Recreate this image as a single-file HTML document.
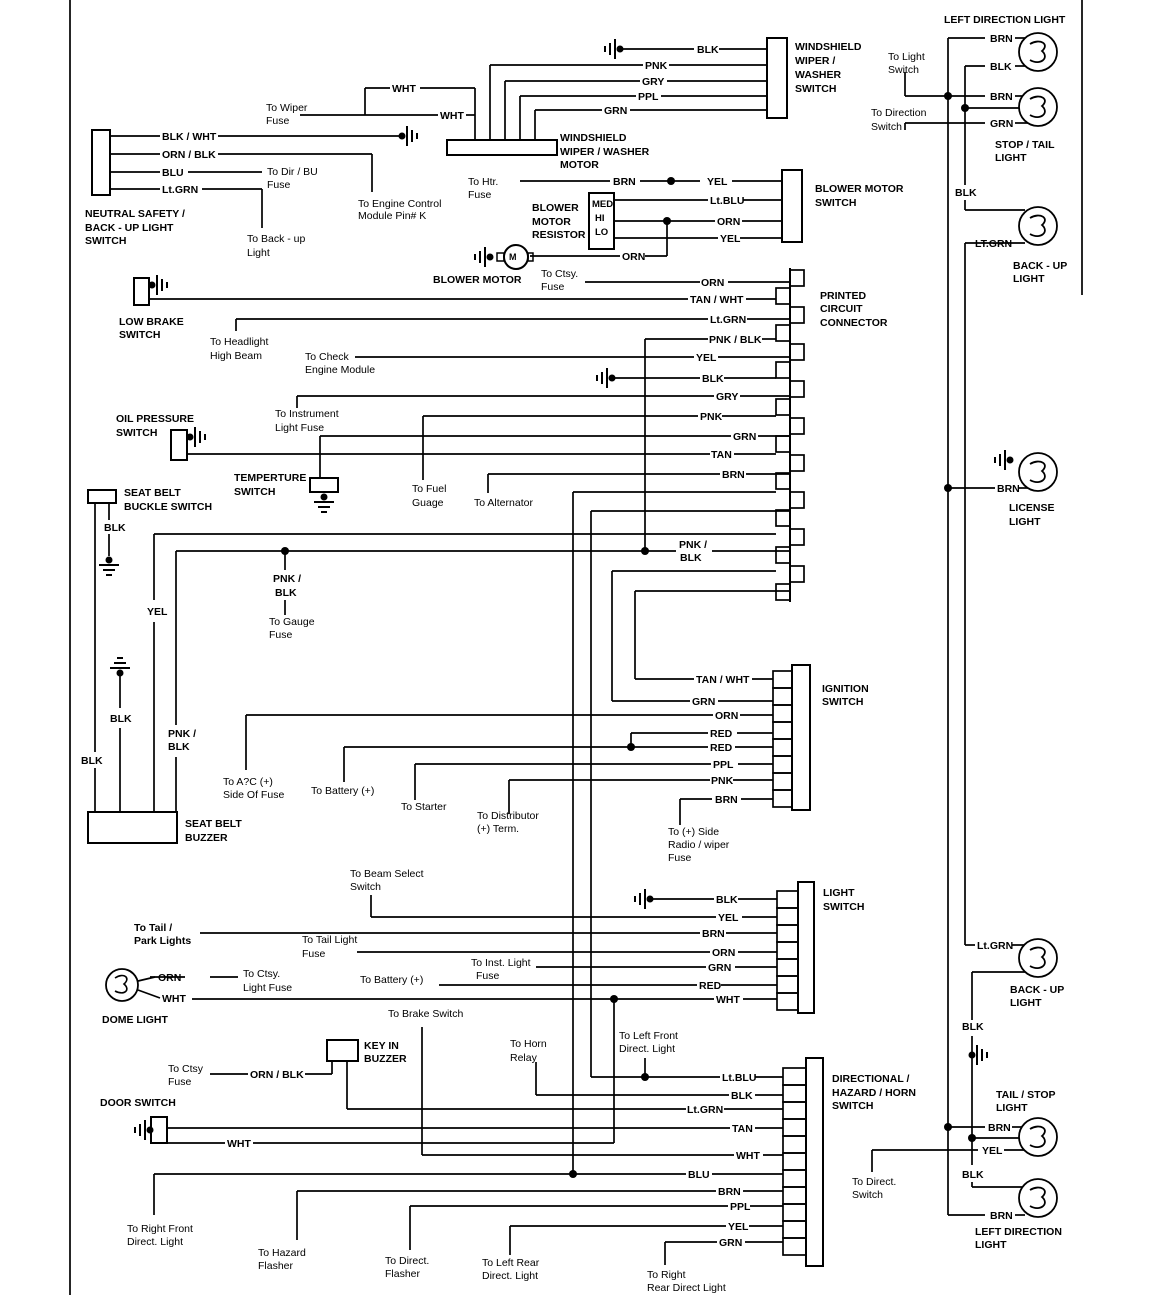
<!DOCTYPE html>
<html><head><meta charset="utf-8"><style>
html,body{margin:0;padding:0;background:#fff;}
svg{display:block;}
text{font-family:"Liberation Sans",sans-serif;font-size:10.5px;fill:#000;}
.b{font-weight:bold;}
</style></head><body>
<svg width="1152" height="1295" viewBox="0 0 1152 1295" xmlns="http://www.w3.org/2000/svg">
<defs>
<g id="gL"><circle cx="0" cy="0" r="3.5" fill="#000"/><line x1="-5" y1="-10" x2="-5" y2="10" stroke="#000" stroke-width="2"/><line x1="-10" y1="-6" x2="-10" y2="6" stroke="#000" stroke-width="2"/><line x1="-15" y1="-3" x2="-15" y2="3" stroke="#000" stroke-width="2"/></g>
<g id="gR"><circle cx="0" cy="0" r="3.5" fill="#000"/><line x1="5" y1="-10" x2="5" y2="10" stroke="#000" stroke-width="2"/><line x1="10" y1="-6" x2="10" y2="6" stroke="#000" stroke-width="2"/><line x1="15" y1="-3" x2="15" y2="3" stroke="#000" stroke-width="2"/></g>
<g id="gD"><circle cx="0" cy="0" r="3.5" fill="#000"/><line x1="-10" y1="5" x2="10" y2="5" stroke="#000" stroke-width="2"/><line x1="-6" y1="10" x2="6" y2="10" stroke="#000" stroke-width="2"/><line x1="-3" y1="15" x2="3" y2="15" stroke="#000" stroke-width="2"/></g>
<g id="gU"><circle cx="0" cy="0" r="3.5" fill="#000"/><line x1="-10" y1="-5" x2="10" y2="-5" stroke="#000" stroke-width="2"/><line x1="-6" y1="-10" x2="6" y2="-10" stroke="#000" stroke-width="2"/><line x1="-3" y1="-15" x2="3" y2="-15" stroke="#000" stroke-width="2"/></g>
<g id="bulb"><circle cx="0" cy="0" r="19" fill="#fff" stroke="#000" stroke-width="1.8"/><path d="M-8,-8 C2,-14 12,-8 4,-1 C12,6 2,14 -8,8" fill="none" stroke="#000" stroke-width="1.8"/></g>
<circle id="dt" cx="0" cy="0" r="4" fill="#000"/>
</defs>
<g stroke="#000" stroke-width="1.7" fill="none">
<line x1="70" y1="0" x2="70" y2="1295"/>
<line x1="1082" y1="0" x2="1082" y2="295"/>

<rect x="767" y="38" width="20" height="80" stroke-width="2"/>
<line x1="620" y1="49" x2="694" y2="49"/><line x1="719" y1="49" x2="767" y2="49"/>
<line x1="490" y1="65" x2="643" y2="65"/><line x1="669" y1="65" x2="767" y2="65"/>
<line x1="505" y1="81" x2="640" y2="81"/><line x1="667" y1="81" x2="767" y2="81"/>
<line x1="520" y1="96" x2="636" y2="96"/><line x1="661" y1="96" x2="767" y2="96"/>
<line x1="535" y1="110" x2="602" y2="110"/><line x1="630" y1="110" x2="767" y2="110"/>
<line x1="490" y1="65" x2="490" y2="140"/><line x1="505" y1="81" x2="505" y2="140"/><line x1="520" y1="96" x2="520" y2="140"/><line x1="535" y1="110" x2="535" y2="140"/>
<rect x="447" y="140" width="110" height="15" stroke-width="2"/>
<line x1="365" y1="88" x2="390" y2="88"/><line x1="420" y1="88" x2="475" y2="88"/><line x1="475" y1="88" x2="475" y2="140"/>
<line x1="365" y1="88" x2="365" y2="115"/><line x1="300" y1="115" x2="438" y2="115"/><line x1="466" y1="115" x2="475" y2="115"/>

<rect x="92" y="130" width="18" height="65" stroke-width="2"/>
<line x1="110" y1="136" x2="160" y2="136"/><line x1="218" y1="136" x2="400" y2="136"/>
<line x1="110" y1="154" x2="160" y2="154"/><line x1="218" y1="154" x2="372" y2="154"/><line x1="372" y1="154" x2="372" y2="192"/>
<line x1="110" y1="172" x2="160" y2="172"/><line x1="188" y1="172" x2="262" y2="172"/>
<line x1="110" y1="189" x2="160" y2="189"/><line x1="202" y1="189" x2="262" y2="189"/><line x1="262" y1="189" x2="262" y2="228"/>

<line x1="520" y1="181" x2="610" y2="181"/><line x1="640" y1="181" x2="700" y2="181"/><line x1="732" y1="181" x2="782" y2="181"/>
<rect x="589" y="193" width="25" height="56" stroke-width="2"/>
<line x1="614" y1="200" x2="708" y2="200"/><line x1="743" y1="200" x2="782" y2="200"/>
<line x1="614" y1="221" x2="715" y2="221"/><line x1="742" y1="221" x2="782" y2="221"/>
<line x1="614" y1="238" x2="718" y2="238"/><line x1="740" y1="238" x2="782" y2="238"/>
<line x1="530" y1="256" x2="620" y2="256"/><line x1="645" y1="256" x2="667" y2="256"/><line x1="667" y1="221" x2="667" y2="256"/>
<rect x="782" y="170" width="20" height="72" stroke-width="2"/>
<circle cx="516" cy="257" r="12" stroke-width="2"/>
<rect x="497" y="253" width="7" height="8" stroke-width="1.5"/><rect x="528" y="253" width="5" height="8" stroke-width="1.5"/>

<line x1="790" y1="268" x2="790" y2="602" stroke-width="2"/>
<rect x="790" y="270" width="14" height="16"/><rect x="776" y="288" width="14" height="16"/>
<rect x="790" y="307" width="14" height="16"/><rect x="776" y="325" width="14" height="16"/>
<rect x="790" y="344" width="14" height="16"/><rect x="776" y="362" width="14" height="16"/>
<rect x="790" y="381" width="14" height="16"/><rect x="776" y="399" width="14" height="16"/>
<rect x="790" y="418" width="14" height="16"/><rect x="776" y="436" width="14" height="16"/>
<rect x="790" y="455" width="14" height="16"/><rect x="776" y="473" width="14" height="16"/>
<rect x="790" y="492" width="14" height="16"/><rect x="776" y="510" width="14" height="16"/>
<rect x="790" y="529" width="14" height="16"/><rect x="776" y="547" width="14" height="16"/>
<rect x="790" y="566" width="14" height="16"/><rect x="776" y="584" width="14" height="16"/>

<line x1="585" y1="282" x2="700" y2="282"/><line x1="728" y1="282" x2="790" y2="282"/>
<rect x="134" y="278" width="15" height="27" stroke-width="2"/>
<line x1="149" y1="299" x2="688" y2="299"/><line x1="746" y1="299" x2="776" y2="299"/>
<line x1="236" y1="319" x2="708" y2="319"/><line x1="747" y1="319" x2="790" y2="319"/><line x1="236" y1="319" x2="236" y2="331"/>
<line x1="645" y1="339" x2="708" y2="339"/><line x1="762" y1="339" x2="776" y2="339"/><line x1="645" y1="339" x2="645" y2="551"/>
<line x1="355" y1="357" x2="694" y2="357"/><line x1="718" y1="357" x2="790" y2="357"/>
<line x1="611" y1="378" x2="700" y2="378"/><line x1="724" y1="378" x2="776" y2="378"/>
<line x1="297" y1="396" x2="714" y2="396"/><line x1="740" y1="396" x2="790" y2="396"/><line x1="297" y1="396" x2="297" y2="408"/>
<line x1="423" y1="416" x2="698" y2="416"/><line x1="722" y1="416" x2="776" y2="416"/><line x1="423" y1="416" x2="423" y2="480"/>
<line x1="320" y1="436" x2="731" y2="436"/><line x1="758" y1="436" x2="790" y2="436"/><line x1="320" y1="436" x2="320" y2="478"/>
<rect x="171" y="430" width="16" height="30" stroke-width="2"/>
<line x1="187" y1="454" x2="710" y2="454"/><line x1="734" y1="454" x2="776" y2="454"/>
<rect x="310" y="478" width="28" height="14" stroke-width="2"/>
<line x1="488" y1="474" x2="720" y2="474"/><line x1="746" y1="474" x2="790" y2="474"/><line x1="488" y1="474" x2="488" y2="493"/>
<line x1="573" y1="492" x2="776" y2="492"/><line x1="573" y1="492" x2="573" y2="1174"/>
<line x1="591" y1="511" x2="790" y2="511"/><line x1="591" y1="511" x2="591" y2="1077"/>
<line x1="154" y1="534" x2="776" y2="534"/><line x1="154" y1="534" x2="154" y2="600"/><line x1="154" y1="622" x2="154" y2="812"/>
<line x1="176" y1="551" x2="676" y2="551"/><line x1="712" y1="551" x2="790" y2="551"/><line x1="176" y1="551" x2="176" y2="725"/><line x1="176" y1="757" x2="176" y2="812"/>
<line x1="285" y1="551" x2="285" y2="570"/><line x1="285" y1="600" x2="285" y2="615"/>
<line x1="612" y1="571" x2="776" y2="571"/><line x1="612" y1="571" x2="612" y2="701"/>
<line x1="635" y1="591" x2="790" y2="591"/><line x1="635" y1="591" x2="635" y2="679"/>

<rect x="88" y="490" width="28" height="13" stroke-width="2"/>
<line x1="95" y1="503" x2="95" y2="752"/><line x1="95" y1="768" x2="95" y2="812"/>
<line x1="109" y1="503" x2="109" y2="520"/><line x1="109" y1="534" x2="109" y2="556"/>
<line x1="120" y1="673" x2="120" y2="708"/><line x1="120" y1="728" x2="120" y2="812"/>
<rect x="88" y="812" width="89" height="31" stroke-width="2"/>

<rect x="792" y="665" width="18" height="145" stroke-width="2"/>
<rect x="773" y="671" width="19" height="17"/><rect x="773" y="688" width="19" height="17"/><rect x="773" y="705" width="19" height="17"/><rect x="773" y="722" width="19" height="17"/><rect x="773" y="739" width="19" height="17"/><rect x="773" y="756" width="19" height="17"/><rect x="773" y="773" width="19" height="17"/><rect x="773" y="790" width="19" height="17"/>
<line x1="635" y1="679" x2="694" y2="679"/><line x1="752" y1="679" x2="773" y2="679"/>
<line x1="612" y1="701" x2="690" y2="701"/><line x1="718" y1="701" x2="773" y2="701"/>
<line x1="246" y1="715" x2="713" y2="715"/><line x1="740" y1="715" x2="773" y2="715"/><line x1="246" y1="715" x2="246" y2="770"/>
<line x1="631" y1="733" x2="708" y2="733"/><line x1="737" y1="733" x2="773" y2="733"/><line x1="631" y1="733" x2="631" y2="747"/>
<line x1="344" y1="747" x2="708" y2="747"/><line x1="735" y1="747" x2="773" y2="747"/><line x1="344" y1="747" x2="344" y2="782"/>
<line x1="415" y1="764" x2="711" y2="764"/><line x1="738" y1="764" x2="773" y2="764"/><line x1="415" y1="764" x2="415" y2="800"/>
<line x1="509" y1="780" x2="710" y2="780"/><line x1="733" y1="780" x2="773" y2="780"/><line x1="509" y1="780" x2="509" y2="814"/>
<line x1="680" y1="799" x2="712" y2="799"/><line x1="741" y1="799" x2="773" y2="799"/><line x1="680" y1="799" x2="680" y2="825"/>

<rect x="798" y="882" width="16" height="131" stroke-width="2"/>
<rect x="777" y="891" width="21" height="17"/><rect x="777" y="908" width="21" height="17"/><rect x="777" y="925" width="21" height="17"/><rect x="777" y="942" width="21" height="17"/><rect x="777" y="959" width="21" height="17"/><rect x="777" y="976" width="21" height="17"/><rect x="777" y="993" width="21" height="17"/>
<line x1="650" y1="899" x2="714" y2="899"/><line x1="738" y1="899" x2="777" y2="899"/>
<line x1="371" y1="917" x2="716" y2="917"/><line x1="742" y1="917" x2="777" y2="917"/><line x1="371" y1="895" x2="371" y2="917"/>
<line x1="200" y1="933" x2="700" y2="933"/><line x1="726" y1="933" x2="777" y2="933"/>
<line x1="357" y1="952" x2="710" y2="952"/><line x1="738" y1="952" x2="777" y2="952"/>
<line x1="536" y1="967" x2="706" y2="967"/><line x1="735" y1="967" x2="777" y2="967"/>
<line x1="439" y1="985" x2="697" y2="985"/><line x1="721" y1="985" x2="777" y2="985"/>
<line x1="192" y1="999" x2="714" y2="999"/><line x1="743" y1="999" x2="777" y2="999"/>
<line x1="614" y1="999" x2="614" y2="1143"/><line x1="253" y1="1143" x2="614" y2="1143"/>
<line x1="150" y1="977" x2="185" y2="977"/><line x1="210" y1="977" x2="238" y2="977"/>
<circle cx="122" cy="985" r="16" stroke-width="1.8"/>
<path d="M115,978 C124,972 131,978 124,984 C131,990 124,996 115,991" stroke-width="1.6"/>
<line x1="138" y1="981" x2="155" y2="977"/><line x1="138" y1="990" x2="160" y2="998"/>

<rect x="806" y="1058" width="17" height="208" stroke-width="2"/>
<rect x="783" y="1068" width="23" height="17"/><rect x="783" y="1085" width="23" height="17"/><rect x="783" y="1102" width="23" height="17"/><rect x="783" y="1119" width="23" height="17"/><rect x="783" y="1136" width="23" height="17"/><rect x="783" y="1153" width="23" height="17"/><rect x="783" y="1170" width="23" height="17"/><rect x="783" y="1187" width="23" height="17"/><rect x="783" y="1204" width="23" height="17"/><rect x="783" y="1221" width="23" height="17"/><rect x="783" y="1238" width="23" height="17"/>
<line x1="591" y1="1077" x2="720" y2="1077"/><line x1="755" y1="1077" x2="783" y2="1077"/><line x1="645" y1="1058" x2="645" y2="1077"/>
<line x1="536" y1="1095" x2="729" y2="1095"/><line x1="755" y1="1095" x2="783" y2="1095"/><line x1="536" y1="1062" x2="536" y2="1095"/>
<line x1="347" y1="1109" x2="686" y2="1109"/><line x1="724" y1="1109" x2="783" y2="1109"/><line x1="347" y1="1061" x2="347" y2="1109"/>
<line x1="167" y1="1128" x2="730" y2="1128"/><line x1="755" y1="1128" x2="783" y2="1128"/>
<line x1="422" y1="1027" x2="422" y2="1155"/><line x1="422" y1="1155" x2="734" y2="1155"/><line x1="763" y1="1155" x2="783" y2="1155"/>
<line x1="154" y1="1174" x2="686" y2="1174"/><line x1="712" y1="1174" x2="783" y2="1174"/><line x1="154" y1="1174" x2="154" y2="1215"/>
<line x1="297" y1="1191" x2="716" y2="1191"/><line x1="743" y1="1191" x2="783" y2="1191"/><line x1="297" y1="1191" x2="297" y2="1240"/>
<line x1="410" y1="1206" x2="728" y2="1206"/><line x1="750" y1="1206" x2="783" y2="1206"/><line x1="410" y1="1206" x2="410" y2="1250"/>
<line x1="510" y1="1226" x2="726" y2="1226"/><line x1="749" y1="1226" x2="783" y2="1226"/><line x1="510" y1="1226" x2="510" y2="1255"/>
<line x1="665" y1="1242" x2="717" y2="1242"/><line x1="745" y1="1242" x2="783" y2="1242"/><line x1="665" y1="1242" x2="665" y2="1265"/>
<rect x="327" y="1040" width="31" height="21" stroke-width="2"/>
<line x1="210" y1="1074" x2="248" y2="1074"/><line x1="305" y1="1074" x2="332" y2="1074"/><line x1="332" y1="1061" x2="332" y2="1074"/>
<rect x="151" y="1117" width="16" height="26" stroke-width="2"/>
<line x1="167" y1="1143" x2="225" y2="1143"/>

<line x1="948" y1="38" x2="948" y2="1215"/>
<line x1="948" y1="38" x2="985" y2="38"/><line x1="1015" y1="38" x2="1025" y2="38"/>
<line x1="965" y1="66" x2="985" y2="66"/><line x1="1015" y1="66" x2="1025" y2="66"/><line x1="965" y1="66" x2="965" y2="185"/><line x1="965" y1="200" x2="965" y2="210"/>
<line x1="905" y1="72" x2="905" y2="96"/><line x1="905" y1="96" x2="985" y2="96"/><line x1="1015" y1="96" x2="1028" y2="96"/>
<line x1="965" y1="108" x2="1050" y2="108"/>
<line x1="905" y1="123" x2="985" y2="123"/><line x1="1015" y1="123" x2="1028" y2="123"/><line x1="905" y1="123" x2="905" y2="130"/>
<line x1="965" y1="210" x2="1025" y2="210"/>
<line x1="965" y1="243" x2="1025" y2="243"/><line x1="965" y1="243" x2="965" y2="945"/>
<line x1="948" y1="488" x2="995" y2="488"/><line x1="1018" y1="488" x2="1028" y2="488"/>
<line x1="965" y1="945" x2="975" y2="945"/><line x1="1012" y1="945" x2="1025" y2="945"/>
<line x1="972" y1="972" x2="1025" y2="972"/><line x1="972" y1="972" x2="972" y2="1020"/><line x1="972" y1="1036" x2="972" y2="1165"/><line x1="972" y1="1182" x2="972" y2="1187"/>
<line x1="948" y1="1127" x2="985" y2="1127"/><line x1="1012" y1="1127" x2="1025" y2="1127"/>
<line x1="972" y1="1138" x2="1050" y2="1138"/>
<line x1="872" y1="1150" x2="978" y2="1150"/><line x1="1004" y1="1150" x2="1025" y2="1150"/><line x1="872" y1="1150" x2="872" y2="1172"/>
<line x1="972" y1="1187" x2="1025" y2="1187"/>
<line x1="948" y1="1215" x2="985" y2="1215"/><line x1="1015" y1="1215" x2="1025" y2="1215"/>
</g>

<use href="#gL" x="620" y="49"/>
<use href="#gR" x="402" y="136"/>
<use href="#gL" x="490" y="257"/>
<use href="#gR" x="152" y="285"/>
<use href="#gL" x="612" y="378"/>
<use href="#gR" x="190" y="437"/>
<use href="#gD" x="324" y="497"/>
<use href="#gD" x="109" y="560"/>
<use href="#gU" x="120" y="673"/>
<use href="#gL" x="650" y="899"/>
<use href="#gL" x="150" y="1130"/>
<use href="#gR" x="972" y="1055"/>
<use href="#gL" x="1010" y="460"/>

<use href="#bulb" x="1038" y="52"/>
<use href="#bulb" x="1038" y="107"/>
<use href="#bulb" x="1038" y="226"/>
<use href="#bulb" x="1038" y="472"/>
<use href="#bulb" x="1038" y="958"/>
<use href="#bulb" x="1038" y="1137"/>
<use href="#bulb" x="1038" y="1198"/>

<use href="#dt" x="671" y="181"/><use href="#dt" x="667" y="221"/>
<use href="#dt" x="285" y="551"/><use href="#dt" x="645" y="551"/>
<use href="#dt" x="631" y="747"/><use href="#dt" x="614" y="999"/>
<use href="#dt" x="645" y="1077"/><use href="#dt" x="573" y="1174"/>
<use href="#dt" x="948" y="96"/><use href="#dt" x="965" y="108"/>
<use href="#dt" x="948" y="488"/><use href="#dt" x="948" y="1127"/><use href="#dt" x="972" y="1138"/>

<g class="b">
<text x="795" y="50">WINDSHIELD</text><text x="795" y="64">WIPER /</text><text x="795" y="78">WASHER</text><text x="795" y="92">SWITCH</text>
<text x="560" y="141">WINDSHIELD</text><text x="560" y="155">WIPER / WASHER</text><text x="560" y="168">MOTOR</text>
<text x="85" y="217">NEUTRAL SAFETY /</text><text x="85" y="231">BACK - UP LIGHT</text><text x="85" y="244">SWITCH</text>
<text x="815" y="192">BLOWER MOTOR</text><text x="815" y="206">SWITCH</text>
<text x="532" y="211">BLOWER</text><text x="532" y="225">MOTOR</text><text x="532" y="238">RESISTOR</text>
<text x="592" y="207" style="font-size:9.5px">MED</text><text x="595" y="221" style="font-size:9.5px">HI</text><text x="595" y="235" style="font-size:9.5px">LO</text>
<text x="433" y="283">BLOWER MOTOR</text>
<text x="119" y="325">LOW BRAKE</text><text x="119" y="338">SWITCH</text>
<text x="820" y="299">PRINTED</text><text x="820" y="312">CIRCUIT</text><text x="820" y="326">CONNECTOR</text>
<text x="116" y="422">OIL PRESSURE</text><text x="116" y="436">SWITCH</text>
<text x="234" y="481">TEMPERTURE</text><text x="234" y="495">SWITCH</text>
<text x="124" y="496">SEAT BELT</text><text x="124" y="510">BUCKLE SWITCH</text>
<text x="185" y="827">SEAT BELT</text><text x="185" y="841">BUZZER</text>
<text x="822" y="692">IGNITION</text><text x="822" y="705">SWITCH</text>
<text x="823" y="896">LIGHT</text><text x="823" y="910">SWITCH</text>
<text x="102" y="1023">DOME LIGHT</text>
<text x="364" y="1049">KEY IN</text><text x="364" y="1062">BUZZER</text>
<text x="100" y="1106">DOOR SWITCH</text>
<text x="832" y="1082">DIRECTIONAL /</text><text x="832" y="1096">HAZARD / HORN</text><text x="832" y="1109">SWITCH</text>
<text x="944" y="23">LEFT DIRECTION LIGHT</text>
<text x="995" y="148">STOP / TAIL</text><text x="995" y="161">LIGHT</text>
<text x="1013" y="269">BACK - UP</text><text x="1013" y="282">LIGHT</text>
<text x="1009" y="511">LICENSE</text><text x="1009" y="525">LIGHT</text>
<text x="1010" y="993">BACK - UP</text><text x="1010" y="1006">LIGHT</text>
<text x="996" y="1098">TAIL / STOP</text><text x="996" y="1111">LIGHT</text>
<text x="975" y="1235">LEFT DIRECTION</text><text x="975" y="1248">LIGHT</text>

<text x="697" y="53">BLK</text><text x="645" y="69">PNK</text><text x="642" y="85">GRY</text><text x="638" y="100">PPL</text><text x="604" y="114">GRN</text>
<text x="392" y="92">WHT</text><text x="440" y="119">WHT</text>
<text x="162" y="140">BLK / WHT</text><text x="162" y="158">ORN / BLK</text><text x="162" y="176">BLU</text><text x="162" y="193">Lt.GRN</text>
<text x="613" y="185">BRN</text><text x="707" y="185">YEL</text><text x="710" y="204">Lt.BLU</text><text x="717" y="225">ORN</text><text x="720" y="242">YEL</text><text x="622" y="260">ORN</text>
<text x="701" y="286">ORN</text><text x="690" y="303">TAN / WHT</text><text x="710" y="323">Lt.GRN</text><text x="709" y="343">PNK / BLK</text><text x="696" y="361">YEL</text><text x="702" y="382">BLK</text><text x="716" y="400">GRY</text><text x="700" y="420">PNK</text><text x="733" y="440">GRN</text><text x="711" y="458">TAN</text><text x="722" y="478">BRN</text>
<text x="679" y="548">PNK /</text><text x="680" y="561">BLK</text>
<text x="104" y="531">BLK</text><text x="147" y="615">YEL</text><text x="273" y="582">PNK /</text><text x="275" y="596">BLK</text>
<text x="110" y="722">BLK</text><text x="168" y="737">PNK /</text><text x="168" y="750">BLK</text><text x="81" y="764">BLK</text>
<text x="696" y="683">TAN / WHT</text><text x="692" y="705">GRN</text><text x="715" y="719">ORN</text><text x="710" y="737">RED</text><text x="710" y="751">RED</text><text x="713" y="768">PPL</text><text x="711" y="784">PNK</text><text x="715" y="803">BRN</text>
<text x="716" y="903">BLK</text><text x="718" y="921">YEL</text><text x="702" y="937">BRN</text><text x="712" y="956">ORN</text><text x="708" y="971">GRN</text><text x="699" y="989">RED</text><text x="716" y="1003">WHT</text>
<text x="158" y="981">ORN</text><text x="162" y="1002">WHT</text>
<text x="250" y="1078">ORN / BLK</text><text x="227" y="1147">WHT</text>
<text x="722" y="1081">Lt.BLU</text><text x="731" y="1099">BLK</text><text x="687" y="1113">Lt.GRN</text><text x="732" y="1132">TAN</text><text x="736" y="1159">WHT</text><text x="688" y="1178">BLU</text><text x="718" y="1195">BRN</text><text x="730" y="1210">PPL</text><text x="728" y="1230">YEL</text><text x="719" y="1246">GRN</text>
<text x="990" y="42">BRN</text><text x="990" y="70">BLK</text><text x="990" y="100">BRN</text><text x="990" y="127">GRN</text>
<text x="955" y="196">BLK</text><text x="975" y="247">LT.GRN</text><text x="997" y="492">BRN</text>
<text x="977" y="949">Lt.GRN</text><text x="962" y="1030">BLK</text>
<text x="988" y="1131">BRN</text><text x="982" y="1154">YEL</text><text x="962" y="1178">BLK</text><text x="990" y="1219">BRN</text>
</g>
<g>
<text x="266" y="111">To Wiper</text><text x="266" y="124">Fuse</text>
<text x="267" y="175">To Dir / BU</text><text x="267" y="188">Fuse</text>
<text x="358" y="207">To Engine Control</text><text x="358" y="219">Module Pin# K</text>
<text x="247" y="242">To Back - up</text><text x="247" y="256">Light</text>
<text x="468" y="185">To Htr.</text><text x="468" y="198">Fuse</text>
<text x="541" y="277">To Ctsy.</text><text x="541" y="290">Fuse</text>
<text x="210" y="345">To Headlight</text><text x="210" y="359">High Beam</text>
<text x="305" y="360">To Check</text><text x="305" y="373">Engine Module</text>
<text x="275" y="417">To Instrument</text><text x="275" y="431">Light Fuse</text>
<text x="412" y="492">To Fuel</text><text x="412" y="506">Guage</text>
<text x="474" y="506">To Alternator</text>
<text x="269" y="625">To Gauge</text><text x="269" y="638">Fuse</text>
<text x="223" y="785">To A?C (+)</text><text x="223" y="798">Side Of Fuse</text>
<text x="311" y="794">To Battery (+)</text>
<text x="401" y="810">To Starter</text>
<text x="477" y="819">To Distributor</text><text x="477" y="832">(+) Term.</text>
<text x="668" y="835">To (+) Side</text><text x="668" y="848">Radio / wiper</text><text x="668" y="861">Fuse</text>
<text x="350" y="877">To Beam Select</text><text x="350" y="890">Switch</text>
<text x="134" y="931" class="b">To Tail /</text><text x="134" y="944" class="b">Park Lights</text>
<text x="302" y="943">To Tail Light</text><text x="302" y="957">Fuse</text>
<text x="471" y="966">To Inst. Light</text><text x="476" y="979">Fuse</text>
<text x="360" y="983">To Battery (+)</text>
<text x="243" y="977">To Ctsy.</text><text x="243" y="991">Light Fuse</text>
<text x="388" y="1017">To Brake Switch</text>
<text x="510" y="1047">To Horn</text><text x="510" y="1061">Relay</text>
<text x="619" y="1039">To Left Front</text><text x="619" y="1052">Direct. Light</text>
<text x="168" y="1072">To Ctsy</text><text x="168" y="1085">Fuse</text>
<text x="127" y="1232">To Right Front</text><text x="127" y="1245">Direct. Light</text>
<text x="258" y="1256">To Hazard</text><text x="258" y="1269">Flasher</text>
<text x="385" y="1264">To Direct.</text><text x="385" y="1277">Flasher</text>
<text x="482" y="1266">To Left Rear</text><text x="482" y="1279">Direct. Light</text>
<text x="647" y="1278">To Right</text><text x="647" y="1291">Rear Direct Light</text>
<text x="888" y="60">To Light</text><text x="888" y="73">Switch</text>
<text x="871" y="116">To Direction</text><text x="871" y="130">Switch</text>
<text x="852" y="1185">To Direct.</text><text x="852" y="1198">Switch</text>
<text x="509" y="260" class="b" style="font-size:9px">M</text>
</g>
</svg>
</body></html>
